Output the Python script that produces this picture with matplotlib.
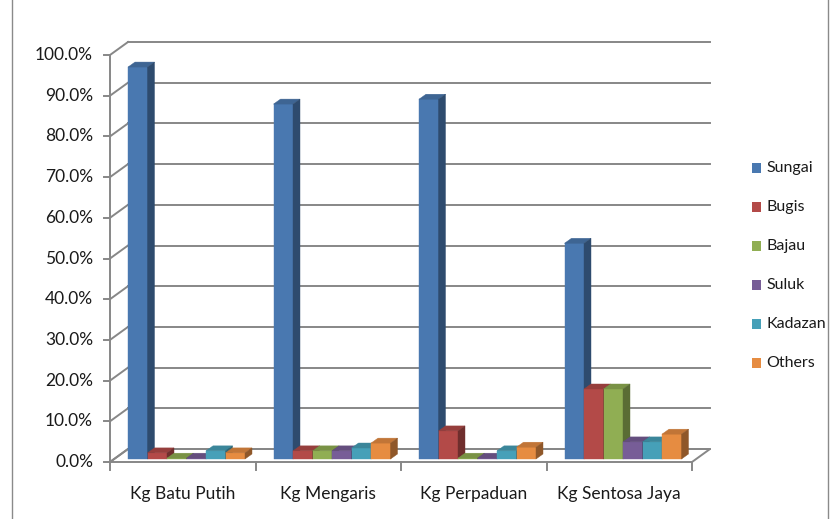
import matplotlib
matplotlib.use("Agg")
import matplotlib.pyplot as plt
import matplotlib.colors as mcolors
from matplotlib.patches import Polygon, Rectangle
from matplotlib.lines import Line2D

# ---- data -------------------------------------------------------------
categories = ["Kg Batu Putih", "Kg Mengaris", "Kg Perpaduan", "Kg Sentosa Jaya"]
groups = ["Sungai", "Bugis", "Bajau", "Suluk", "Kadazan", "Others"]
sungai = [96.3, 87.2, 88.4, 53.0]
bugis = [1.5, 2.0, 6.9, 17.2]
bajau = [0.2, 2.0, 0.2, 17.2]
suluk = [0.2, 2.0, 0.2, 4.2]
kadazan = [2.0, 2.7, 2.0, 4.2]
others = [1.5, 3.9, 2.9, 6.1]
series = [sungai, bugis, bajau, suluk, kadazan, others]
y_ticks = [0, 10, 20, 30, 40, 50, 60, 70, 80, 90, 100]

base_colors = ["#4F81BD", "#C0504D", "#9BBB59", "#8064A2", "#4BACC6", "#F79646"]

plt.rcParams["font.family"] = ["Lato", "DejaVu Sans"]

W, H = 836, 519
fig = plt.figure(figsize=(W / 100, H / 100), dpi=100)
fig.patch.set_facecolor("white")

# front plane of the 3-D box: x 0..4 (categories), y 0..100 (%)
ax_l, ax_r, ax_b, ax_t = 110, 692, 462, 55
ax = fig.add_axes([ax_l / W, 1 - ax_b / H, (ax_r - ax_l) / W, (ax_b - ax_t) / H])
ax.set_xlim(0, len(categories))
ax.set_ylim(0, 100)
ax.axis("off")

px_x = (ax_r - ax_l) / len(categories)   # pixels per category unit
px_y = (ax_b - ax_t) / 100.0             # pixels per percent

# depth offsets (perspective of the box and of the bars)
wall_dx, wall_dy = 18 / px_x, 13 / px_y
bar_dx, bar_dy = 7 / px_x, 5 / px_y
front_dx, front_dy = 4 / px_x, 3 / px_y
bar_w = 19.5 / px_x
bar_start = 14 / px_x

grid_c = "#878787"
grid_lw = 1.4
text_c = "#1a1a1a"


def shade(c, f):
    r, g, b = mcolors.to_rgb(c)
    return (r * f, g * f, b * f)


# floor
n = len(categories)
floor = Polygon([(0, 0), (n, 0), (n + wall_dx, wall_dy), (wall_dx, wall_dy)],
                closed=True, facecolor="white", edgecolor=grid_c, lw=grid_lw,
                clip_on=False, zorder=1)
ax.add_patch(floor)

# back-wall gridlines, left-wall diagonals and y ticks
for v in y_ticks:
    ax.add_line(Line2D([wall_dx, n + wall_dx], [v + wall_dy, v + wall_dy],
                       color=grid_c, lw=grid_lw, clip_on=False, zorder=1))
    ax.add_line(Line2D([0, wall_dx], [v, v + wall_dy],
                       color=grid_c, lw=grid_lw, clip_on=False, zorder=1))
    ax.add_line(Line2D([-6 / px_x, 0], [v, v],
                       color=grid_c, lw=grid_lw, clip_on=False, zorder=1))
    ax.text(-17 / px_x, v, f"{v:.1f}%", ha="right", va="center",
            fontsize=12.5, color=text_c)

# vertical value axis
ax.add_line(Line2D([0, 0], [0, 100], color=grid_c, lw=grid_lw,
                   clip_on=False, zorder=1))

# category ticks under the floor edge
for i in range(n + 1):
    ax.add_line(Line2D([i, i], [0, -8 / px_y], color=grid_c, lw=grid_lw,
                       clip_on=False, zorder=1))

for i, cat in enumerate(categories):
    ax.text(i + 0.5, -32 / px_y, cat, ha="center", va="center",
            fontsize=12.5, color=text_c)

# 3-D bars: front face via ax.bar, top and side faces as polygons
for i in range(n):
    for j, (vals, col) in enumerate(zip(series, base_colors)):
        h = vals[i]
        x0 = i + bar_start + front_dx + j * bar_w
        x1 = x0 + bar_w
        y0 = front_dy
        y1 = front_dy + h
        z = 3 + i * 10 + j
        ax.bar(x0, h, width=bar_w, bottom=y0, align="edge",
               color=shade(col, 0.93), edgecolor=shade(col, 0.93),
               lw=0.3, zorder=z, clip_on=False)
        top = Polygon([(x0, y1), (x1, y1), (x1 + bar_dx, y1 + bar_dy),
                       (x0 + bar_dx, y1 + bar_dy)], closed=True,
                      facecolor=shade(col, 0.78), edgecolor=shade(col, 0.78),
                      lw=0.3, zorder=z, clip_on=False)
        side = Polygon([(x1, y0), (x1 + bar_dx, y0 + bar_dy),
                        (x1 + bar_dx, y1 + bar_dy), (x1, y1)], closed=True,
                       facecolor=shade(col, 0.58), edgecolor=shade(col, 0.58),
                       lw=0.3, zorder=z, clip_on=False)
        ax.add_patch(top)
        ax.add_patch(side)

# legend
leg_x, leg_y0, leg_step = 752, 168, 39
for k, (name, col) in enumerate(zip(groups, base_colors)):
    yc = leg_y0 + k * leg_step
    fig.add_artist(Rectangle((leg_x / W, 1 - (yc + 5) / H), 9 / W, 10 / H,
                             transform=fig.transFigure, facecolor=shade(col, 0.93),
                             edgecolor="none"))
    fig.text((leg_x + 14) / W, 1 - yc / H, name, ha="left", va="center",
             fontsize=11.5, color=text_c)

# chart area frame
fig.add_artist(Line2D([12 / W, 12 / W], [0, 1], transform=fig.transFigure,
                      color="#8a8a8a", lw=1.0))
fig.add_artist(Line2D([828 / W, 828 / W], [0, 1], transform=fig.transFigure,
                      color="#8a8a8a", lw=1.0))

fig.savefig("out.png", dpi=100, facecolor="white")
